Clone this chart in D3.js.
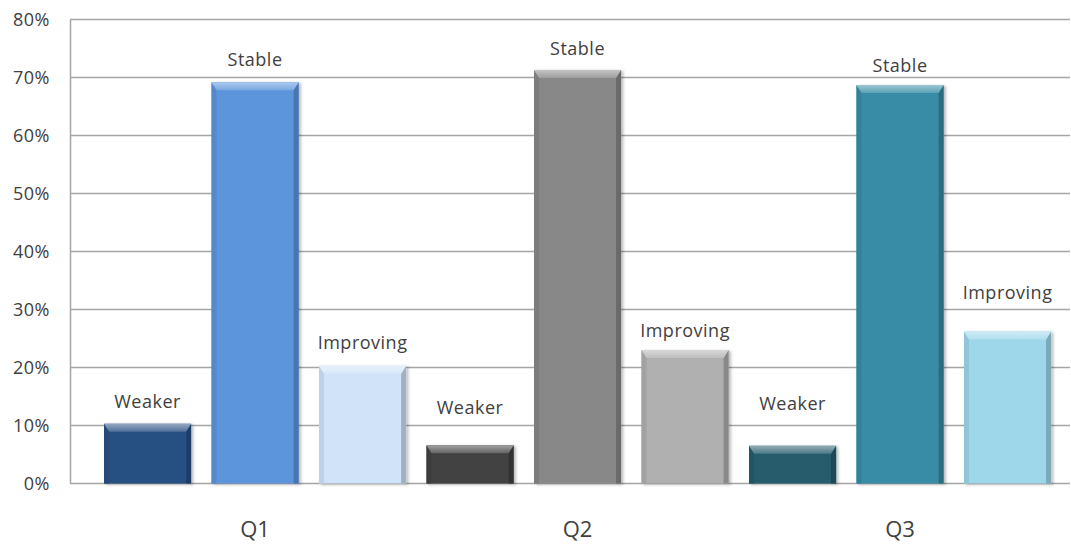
<!DOCTYPE html>
<html>
<head>
<meta charset="utf-8">
<script src="https://cdn.jsdelivr.net/npm/d3@7/dist/d3.min.js"></script>
<style>
  html, body { margin: 0; padding: 0; background: #ffffff; }
  svg { display: block; }
  text { font-family: "Open Sans", "Noto Sans", sans-serif; fill: #404040; }
</style>
</head>
<body>
<svg id="chart" width="1071" height="546"></svg>
<script>
// ---- data ----
const quarters = ["Q1", "Q2", "Q3"];
const outlooks = ["Weaker", "Stable", "Improving"];
const q1Values = [10.3, 69.2, 20.3];
const q2Values = [6.6, 71.3, 23.0];
const q3Values = [6.5, 68.7, 26.2];
const yTicks = [0, 10, 20, 30, 40, 50, 60, 70, 80];

// ---- palette per quarter (Weaker, Stable, Improving) ----
const palette = {
  Q1: ["#284f82", "#5b95dc", "#d0e3f9"],
  Q2: ["#424242", "#888888", "#b0b0b0"],
  Q3: ["#255c6c", "#378ca6", "#9ed7ea"]
};
// vertical gap (px) between each label baseline and its bar top
const labelGap = [16, 16, 17, 31, 15, 13, 36, 13, 33];

const seriesByQuarter = { Q1: q1Values, Q2: q2Values, Q3: q3Values };
const bars = [];
quarters.forEach(q => {
  outlooks.forEach((o, i) => {
    bars.push({ key: q + "-" + o, quarter: q, outlook: o, value: seriesByQuarter[q][i], color: palette[q][i] });
  });
});

// ---- layout ----
const plot = { left: 70, right: 1070, top: 19.5, bottom: 483.5 };

const svg = d3.select("#chart");

const y = d3.scaleLinear().domain([0, 80]).range([plot.bottom, plot.top]);
const x = d3.scaleBand()
  .domain(bars.map(d => d.key))
  .range([93.8, 1061.3])
  .paddingInner(0.19)
  .paddingOuter(0.095);

// drop shadow for bars
const defs = svg.append("defs");
const f = defs.append("filter").attr("id", "barShadow")
  .attr("x", "-20%").attr("y", "-20%").attr("width", "140%").attr("height", "140%");
f.append("feDropShadow").attr("dx", 2).attr("dy", 1).attr("stdDeviation", 1.6)
  .attr("flood-color", "#000").attr("flood-opacity", 0.28);

// top-bevel gradients
bars.forEach((d, i) => {
  const g = defs.append("linearGradient").attr("id", "bev" + i)
    .attr("x1", 0).attr("y1", 0).attr("x2", 0).attr("y2", 1);
  g.append("stop").attr("offset", "0%").attr("stop-color", d3.interpolateRgb(d.color, "#ffffff")(0.5));
  g.append("stop").attr("offset", "100%").attr("stop-color", d3.interpolateRgb(d.color, "#ffffff")(0.18));
});

// ---- gridlines ----
svg.append("g").attr("class", "grid")
  .selectAll("line")
  .data(yTicks)
  .join("line")
  .attr("x1", plot.left)
  .attr("x2", plot.right)
  .attr("y1", d => y(d))
  .attr("y2", d => y(d))
  .attr("stroke", "#a5a5a5")
  .attr("stroke-width", 1.5);

// ---- y axis ----
const yAxis = svg.append("g")
  .attr("transform", `translate(${plot.left},0)`)
  .call(d3.axisLeft(y).tickValues(yTicks).tickSize(0).tickPadding(20).tickFormat(d => d + "%"));
yAxis.select(".domain").attr("stroke", "#a5a5a5").attr("stroke-width", 1.5);
yAxis.selectAll("text")
  .attr("font-size", 18)
  .attr("fill", "#404040")
  .attr("font-family", "\"Open Sans\", sans-serif")
  .attr("letter-spacing", "0.5px");

// ---- bars ----
const bw = x.bandwidth();
const bevTop = 8, bevSide = 5;
const barG = svg.append("g").selectAll("g")
  .data(bars)
  .join("g")
  .attr("filter", "url(#barShadow)");

barG.append("rect")
  .attr("x", d => x(d.key))
  .attr("y", d => y(d.value))
  .attr("width", bw)
  .attr("height", d => y(0) - y(d.value))
  .attr("fill", d => d.color);

// left edge
barG.append("path")
  .attr("d", d => {
    const x0 = x(d.key), y0 = y(d.value), y1 = y(0);
    return `M${x0},${y0}L${x0 + bevSide},${y0 + bevTop}L${x0 + bevSide},${y1}L${x0},${y1}Z`;
  })
  .attr("fill", d => d3.interpolateRgb(d.color, "#000")(0.08));

// right edge
barG.append("path")
  .attr("d", d => {
    const x1 = x(d.key) + bw, y0 = y(d.value), y1 = y(0);
    return `M${x1},${y0}L${x1 - bevSide},${y0 + bevTop}L${x1 - bevSide},${y1}L${x1},${y1}Z`;
  })
  .attr("fill", d => d3.interpolateRgb(d.color, "#000")(0.22));

// top bevel
barG.append("path")
  .attr("d", d => {
    const x0 = x(d.key), x1 = x0 + bw, y0 = y(d.value);
    return `M${x0},${y0}L${x1},${y0}L${x1 - bevSide},${y0 + bevTop}L${x0 + bevSide},${y0 + bevTop}Z`;
  })
  .attr("fill", (d, i) => `url(#bev${i})`);

// ---- bar labels ----
svg.append("g").selectAll("text")
  .data(bars)
  .join("text")
  .attr("x", d => x(d.key) + bw / 2)
  .attr("y", (d, i) => y(d.value) - labelGap[i])
  .attr("text-anchor", "middle")
  .attr("font-size", 18)
  .attr("letter-spacing", "0.5px")
  .text(d => d.outlook);

// ---- quarter labels (centred on each group) ----
svg.append("g").selectAll("text")
  .data(quarters)
  .join("text")
  .attr("x", q => x(q + "-Stable") + bw / 2)
  .attr("y", 537)
  .attr("text-anchor", "middle")
  .attr("font-size", 22)
  .text(q => q);
</script>
</body>
</html>
